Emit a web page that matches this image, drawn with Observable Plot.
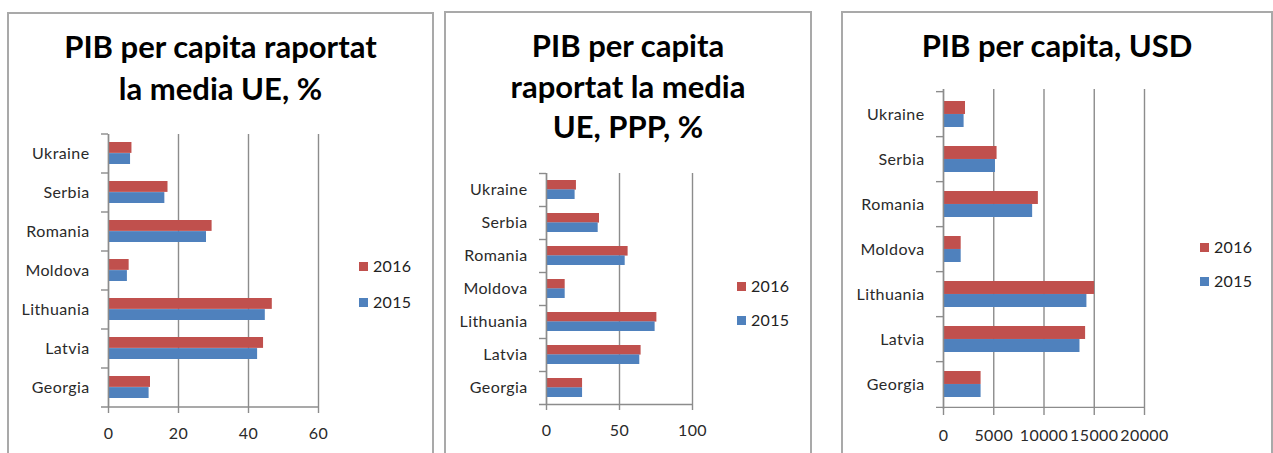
<!DOCTYPE html>
<html>
<head>
<meta charset="utf-8">
<script src="https://cdn.jsdelivr.net/npm/d3@7"></script>
<script src="https://cdn.jsdelivr.net/npm/@observablehq/plot@0.6"></script>
<style>
  html, body { margin: 0; padding: 0; background: #fff; }
  #page { position: relative; width: 1273px; height: 453px; overflow: hidden; font-family: Lato, "Open Sans", sans-serif; }
  .box { position: absolute; border: 2px solid #a9a9a9; box-sizing: border-box; }
  .title { position: absolute; text-align: center; font-weight: bold; font-size: 31px; color: #000; }
  .plot { position: absolute; }
  .leg { position: absolute; font-size: 16px; color: #222; line-height: 16px; white-space: nowrap; letter-spacing: 0.3px; }
  .leg span.sw { display: inline-block; width: 9px; height: 9px; margin-right: 5px; vertical-align: 1px; }
</style>
</head>
<body>
<div id="page"></div>
<script>
const countries = ["Ukraine", "Serbia", "Romania", "Moldova", "Lithuania", "Latvia", "Georgia"];
const years = ["2016", "2015"];
const eu2016 = [6.7, 17.0, 29.6, 5.9, 46.8, 44.3, 12.0];
const eu2015 = [6.3, 16.1, 28.0, 5.4, 44.8, 42.6, 11.6];
const ppp2016 = [20.5, 36.3, 55.9, 12.8, 75.6, 64.8, 24.7];
const ppp2015 = [19.6, 35.4, 53.9, 12.8, 74.4, 63.9, 24.7];
const usd2016 = [2190, 5330, 9440, 1760, 15030, 14140, 3740];
const usd2015 = [2050, 5170, 8870, 1760, 14270, 13580, 3740];
const euTicks = [0, 20, 40, 60];
const pppTicks = [0, 50, 100];
const usdTicks = [0, 5000, 10000, 15000, 20000];
const titles = [
  ["PIB per capita raportat", "la media UE, %"],
  ["PIB per capita", "raportat la media", "UE, PPP, %"],
  ["PIB per capita, USD"]
];
const colors = {"2016": "#C0504D", "2015": "#4F81BD"};
const gridColor = "#8c8c8c";

const page = document.getElementById("page");

function addBox(left, top, width, height) {
  const d = document.createElement("div");
  d.className = "box";
  Object.assign(d.style, {left: left + "px", top: top + "px", width: width + "px", height: height + "px"});
  page.appendChild(d);
}

function addTitle(lines, left, width, top, lineHeight) {
  const d = document.createElement("div");
  d.className = "title";
  Object.assign(d.style, {left: left + "px", width: width + "px", top: top + "px", lineHeight: lineHeight + "px"});
  d.innerHTML = lines.join("<br>");
  page.appendChild(d);
}

function addLegend(left, top, gap) {
  years.forEach((y, i) => {
    const d = document.createElement("div");
    d.className = "leg";
    Object.assign(d.style, {left: left + "px", top: (top + i * gap) + "px"});
    d.innerHTML = `<span class="sw" style="background:${colors[y]}"></span>${y}`;
    page.appendChild(d);
  });
}

function addPlot({left, top, width, height, ml, mr, mt, mb, domain, ticks, v2016, v2015}) {
  const rows2016 = countries.map((c, i) => ({country: c, year: "2016", value: v2016[i]}));
  const rows2015 = countries.map((c, i) => ({country: c, year: "2015", value: v2015[i]}));
  const pad = 0.43;
  const step = (height - mt - mb) / countries.length;
  const half = step * (1 - pad) / 2;
  const chart = Plot.plot({
    width, height,
    marginLeft: ml, marginRight: mr, marginTop: mt, marginBottom: mb,
    style: {fontFamily: "Lato, 'Open Sans', sans-serif", fontSize: "16px", letterSpacing: "0.4px", color: "#2a2a2a", background: "transparent", overflow: "visible"},
    x: {domain, label: null},
    y: {domain: countries, padding: pad, paddingOuter: pad / 2, label: null},
    marks: [
      Plot.gridX(ticks, {stroke: gridColor, strokeOpacity: 1, strokeWidth: 1.4}),
      Plot.barX(rows2016, {x: "value", y: "country", fill: colors["2016"], insetBottom: half}),
      Plot.barX(rows2015, {x: "value", y: "country", fill: colors["2015"], insetTop: half}),
      Plot.ruleX([0], {stroke: gridColor, strokeWidth: 1.4}),
      Plot.ruleY(countries, {y: d => d, dy: -step / 2, x1: 0, x2: 0, insetLeft: -7, stroke: gridColor, strokeWidth: 1.4}),
      Plot.ruleY([countries[countries.length - 1]], {y: d => d, dy: step / 2, x1: 0, x2: domain[1], insetLeft: -7, stroke: gridColor, strokeWidth: 1.4}),
      Plot.axisX({ticks, tickFormat: d => String(d), tickSize: 6, tickPadding: 14, stroke: gridColor, strokeWidth: 1.4, fill: "#2a2a2a", fontSize: 16, label: null}),
      Plot.axisY({tickSize: 0, tickPadding: 19, fill: "#2a2a2a", fontSize: 16, label: null})
    ]
  });
  chart.classList.add("plot");
  Object.assign(chart.style, {left: left + "px", top: top + "px"});
  page.appendChild(chart);
}

// Panel 1
addBox(7, 12, 427, 460);
addTitle(titles[0], 7, 427, 25, 42);
addPlot({left: 7, top: 120, width: 330, height: 333, ml: 101, mr: 19, mt: 14, mb: 46, domain: [0, 60], ticks: euTicks, v2016: eu2016, v2015: eu2015});
addLegend(359, 258, 36);

// Panel 2
addBox(444, 11, 368, 460);
addTitle(titles[1], 444, 368, 25, 40.5);
addPlot({left: 444, top: 160, width: 300, height: 293, ml: 102, mr: 52, mt: 13, mb: 49, domain: [0, 100], ticks: pppTicks, v2016: ppp2016, v2015: ppp2015});
addLegend(737, 278, 34);

// Panel 3
addBox(841, 11, 432, 460);
addTitle(titles[2], 841, 432, 24, 42);
addPlot({left: 841, top: 75, width: 330, height: 378, ml: 102, mr: 27, mt: 14, mb: 44, domain: [0, 20000], ticks: usdTicks, v2016: usd2016, v2015: usd2015});
addLegend(1200, 239, 34);
</script>
</body>
</html>
